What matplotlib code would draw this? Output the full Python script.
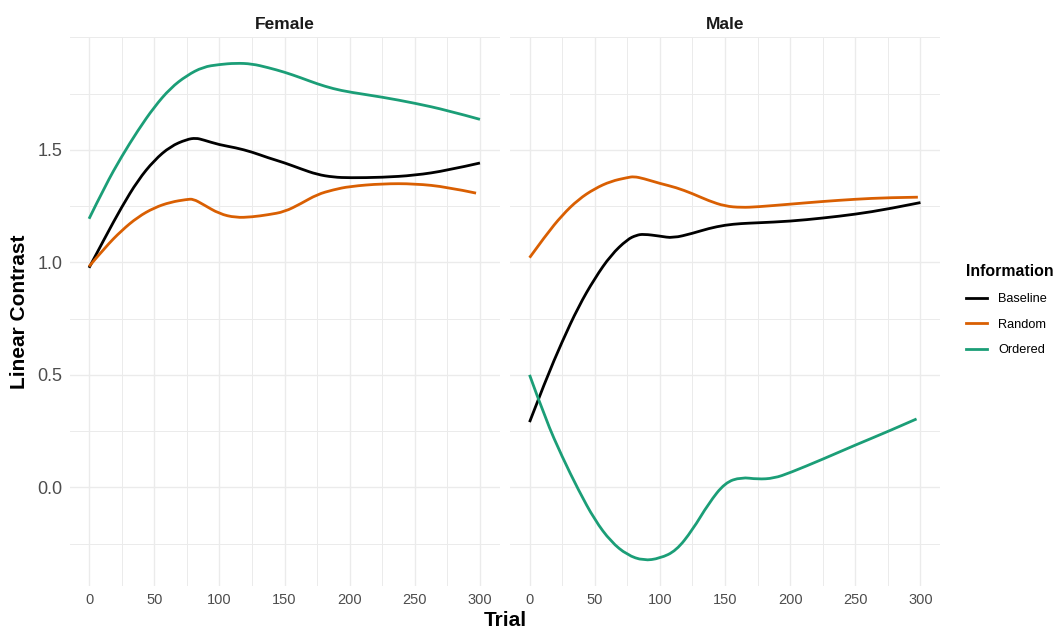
import matplotlib
matplotlib.use('Agg')
import matplotlib.pyplot as plt
from matplotlib.lines import Line2D
from matplotlib.patches import PathPatch
from matplotlib.path import Path
from matplotlib.ticker import MultipleLocator

# smoothed linear contrast per trial, one list per sex and information type
female_baseline_trial = [0, 12.5, 25, 37.5, 50, 62.5, 75, 82, 87.5, 100, 112.5, 125, 137.5, 150,
                         162.5, 175, 187.5, 200, 225, 250, 275, 300]
female_baseline = [0.976, 1.113, 1.246, 1.365, 1.454, 1.516, 1.547, 1.553, 1.545, 1.523, 1.510, 1.491,
                   1.465, 1.443, 1.416, 1.391, 1.379, 1.376, 1.378, 1.387, 1.409, 1.442]

female_random_trial = [0, 12.5, 25, 37.5, 50, 62.5, 75, 80, 87.5, 100, 112.5, 125, 137.5, 150,
                       162.5, 175, 187.5, 200, 225, 250, 275, 297]
female_random = [0.982, 1.068, 1.142, 1.202, 1.243, 1.268, 1.280, 1.282, 1.258, 1.216, 1.199, 1.202,
                 1.212, 1.225, 1.261, 1.302, 1.323, 1.338, 1.350, 1.350, 1.335, 1.308]

female_ordered_trial = [0, 12.5, 25, 37.5, 50, 62.5, 75, 87.5, 100, 112.5, 125, 137.5, 150,
                        162.5, 175, 187.5, 200, 225, 250, 275, 300]
female_ordered = [1.194, 1.342, 1.471, 1.587, 1.691, 1.775, 1.831, 1.869, 1.880, 1.886, 1.883, 1.866,
                  1.846, 1.821, 1.794, 1.772, 1.757, 1.735, 1.708, 1.676, 1.636]

male_baseline_trial = [0, 12.5, 25, 37.5, 50, 62.5, 75, 82, 87.5, 100, 110, 125, 137.5, 150,
                       162.5, 175, 200, 225, 250, 275, 300]
male_baseline = [0.290, 0.478, 0.648, 0.803, 0.929, 1.033, 1.102, 1.121, 1.126, 1.117, 1.108, 1.129,
                 1.151, 1.166, 1.173, 1.176, 1.183, 1.197, 1.214, 1.237, 1.266]

male_random_trial = [0, 12.5, 25, 37.5, 50, 62.5, 75, 80, 87.5, 100, 112.5, 125, 137.5, 150,
                     162.5, 175, 200, 225, 250, 275, 298]
male_random = [1.021, 1.121, 1.210, 1.280, 1.328, 1.361, 1.377, 1.382, 1.373, 1.351, 1.333, 1.306,
               1.274, 1.250, 1.244, 1.247, 1.259, 1.271, 1.281, 1.288, 1.290]

male_ordered_trial = [0, 12.5, 25, 37.5, 50, 62.5, 75, 87.5, 100, 112.5, 125, 137.5, 150,
                      162.5, 175, 187.5, 200, 225, 250, 275, 297]
male_ordered = [0.500, 0.300, 0.136, -0.012, -0.145, -0.242, -0.301, -0.326, -0.316, -0.282, -0.190,
                -0.071, 0.021, 0.045, 0.036, 0.040, 0.065, 0.125, 0.188, 0.248, 0.304]

info_labels = ['Baseline', 'Random', 'Ordered']
info_colors = ['#000000', '#D95F02', '#1B9E77']
panel_titles = ['Female', 'Male']

plt.rcParams['font.family'] = ['Liberation Sans', 'DejaVu Sans']

panels = [
    [(female_baseline_trial, female_baseline), (female_random_trial, female_random),
     (female_ordered_trial, female_ordered)],
    [(male_baseline_trial, male_baseline), (male_random_trial, male_random),
     (male_ordered_trial, male_ordered)],
]


def smooth_path(x, y):
    """Quadratic bezier path: data points act as control points, joined at midpoints."""
    pts = list(zip(x, y))
    verts = [pts[0]]
    codes = [Path.MOVETO]
    for k in range(1, len(pts) - 1):
        mid = ((pts[k][0] + pts[k + 1][0]) / 2, (pts[k][1] + pts[k + 1][1]) / 2)
        if k == len(pts) - 2:
            mid = pts[-1]
        verts += [pts[k], mid]
        codes += [Path.CURVE3, Path.CURVE3]
    return Path(verts, codes)


fig = plt.figure(figsize=(10.57, 6.29), dpi=100)
lefts = [69.5 / 1057, 510 / 1057]
width = 430 / 1057
bottom, height = 0.0679, 0.8725

for i, (title, series) in enumerate(zip(panel_titles, panels)):
    ax = fig.add_axes([lefts[i], bottom, width, height])
    for (x, y), col in zip(series, info_colors):
        ax.add_patch(PathPatch(smooth_path(x, y), fill=False, edgecolor=col, lw=2.0,
                               capstyle='butt', joinstyle='round'))

    ax.set_xlim(-15, 315)
    ax.set_ylim(-0.44, 2.0)
    ax.xaxis.set_major_locator(MultipleLocator(50))
    ax.xaxis.set_minor_locator(MultipleLocator(25))
    ax.yaxis.set_major_locator(MultipleLocator(0.5))
    ax.yaxis.set_minor_locator(MultipleLocator(0.25))
    ax.set_yticks([0.0, 0.5, 1.0, 1.5])
    ax.grid(which='major', color='#EBEBEB', lw=1.0)
    ax.grid(which='minor', color='#EBEBEB', lw=0.7)
    ax.set_axisbelow(True)
    for s in ax.spines.values():
        s.set_visible(False)
    ax.tick_params(which='both', length=0)
    ax.tick_params(axis='x', labelsize=10.5, labelcolor='#4D4D4D', pad=5)
    ax.tick_params(axis='y', labelsize=13, labelcolor='#4D4D4D', pad=5)
    if i == 1:
        ax.tick_params(axis='y', labelleft=False)
    ax.set_title(title, fontsize=12.5, fontweight='bold', color='#1A1A1A', pad=6)

fig.text(20 / 1057, 1 - 312 / 629, 'Linear Contrast', rotation=90, ha='center', va='center',
         fontsize=15, fontweight='bold')
fig.text(505 / 1057, 1 - 620 / 629, 'Trial', ha='center', va='center',
         fontsize=15, fontweight='bold')

# legend keys
handles = [Line2D([], [], color=c, lw=2.0, label=l) for l, c in zip(info_labels, info_colors)]
fig.legend(handles=handles, loc='upper left', bbox_to_anchor=(960 / 1057, 1 - 258 / 629),
           frameon=False, borderpad=0, fontsize=9.2, title='Information',
           title_fontproperties={'weight': 'bold', 'size': 11.4}, alignment='left',
           handlelength=1.65, handletextpad=0.86, labelspacing=1.07)

fig.savefig('out.png', dpi=100, facecolor='white')
